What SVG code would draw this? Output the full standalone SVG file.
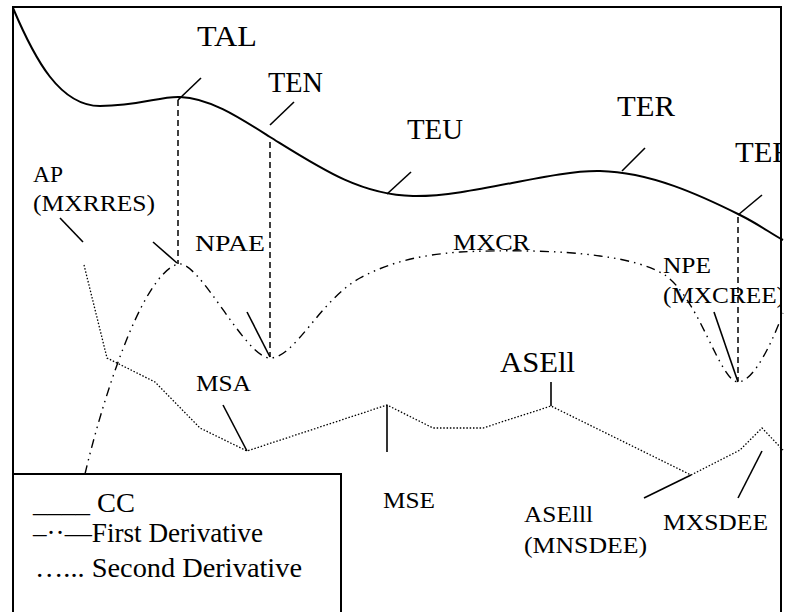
<svg xmlns="http://www.w3.org/2000/svg" width="786" height="612" viewBox="0 0 786 612">
<style>
text{font-family:"Liberation Serif","DejaVu Serif","Noto Serif",serif;fill:#000}
.big{font-size:29px}
.sm{font-size:24px}
.lg{font-size:27px}
.solid{fill:none;stroke:#000;stroke-width:2}
.tick{fill:none;stroke:#000;stroke-width:1.6}
.dash{fill:none;stroke:#000;stroke-width:1.5;stroke-dasharray:6 4}
.d1{fill:none;stroke:#000;stroke-width:1.4;stroke-dasharray:9 5 1.5 5 1.5 5}
.d2{fill:none;stroke:#000;stroke-width:1.3;stroke-dasharray:1.5 1.8}
</style>
<defs>
<clipPath id="frameClip"><rect x="0" y="0" width="781" height="612"/></clipPath>
</defs>
<rect width="786" height="612" fill="#fff"/>
<g id="curves">
<path id="cc" class="solid" d="M13,8 C35,60 60,106 100,106 C140,106 160,96 180,97 C210,98 240,118 270,137 C320,168 360,195 413,196 C470,197 550,170 600,171 C650,172 700,195 740,215 C760,225 770,233 783,240"/>
<path id="first" class="d1" d="M85,474 C100,410 140,275 178,264 C200,260 245,358 270,358 C295,358 320,300 360,278 C390,262 420,255 460,252 C500,250 560,250 600,256 C630,260 650,266 665,275 C700,300 720,382 738,382 C755,382 775,335 783,313"/>
<polyline id="second" class="d2" points="84,265 107,358 155,382 200,428 247,451 387,405 433,428 483,428 551,406 691,475 740,450 762,428 783,450"/>
</g>
<g id="connectors">
<line class="dash" x1="178" y1="100" x2="178" y2="264"/>
<line class="dash" x1="270" y1="142" x2="270" y2="357"/>
<line class="dash" x1="738" y1="217" x2="738" y2="381"/>
<line class="tick" x1="178" y1="100" x2="201" y2="78"/>
<line class="tick" x1="270" y1="125" x2="294" y2="102"/>
<line class="tick" x1="387" y1="194" x2="411" y2="172"/>
<line class="tick" x1="622" y1="171" x2="645" y2="148"/>
<line class="tick" x1="738" y1="215" x2="762" y2="195"/>
<line class="tick" x1="60" y1="218" x2="83" y2="242"/>
<line class="tick" x1="153" y1="242" x2="177" y2="263"/>
<line class="tick" x1="247" y1="312" x2="270" y2="357"/>
<line class="tick" x1="223" y1="405" x2="247" y2="451"/>
<line class="tick" x1="387" y1="405" x2="387" y2="452"/>
<line class="tick" x1="551" y1="382" x2="551" y2="406"/>
<line class="tick" x1="714" y1="312" x2="738" y2="382"/>
<line class="tick" x1="644" y1="498" x2="691" y2="475"/>
<line class="tick" x1="738" y1="498" x2="762" y2="451"/>
</g>
<g id="labels" clip-path="url(#frameClip)">
<g id="TAL"><text class="big" x="197" y="46" textLength="60" lengthAdjust="spacingAndGlyphs">TAL</text></g>
<g id="TEN"><text class="big" x="268" y="92" textLength="55" lengthAdjust="spacingAndGlyphs">TEN</text></g>
<g id="TEU"><text class="big" x="407" y="139" textLength="56" lengthAdjust="spacingAndGlyphs">TEU</text></g>
<g id="TER"><text class="big" x="617" y="116" textLength="58" lengthAdjust="spacingAndGlyphs">TER</text></g>
<g id="TEE"><text class="big" x="735" y="162" textLength="56" lengthAdjust="spacingAndGlyphs">TEE</text></g>
<g id="ASEll"><text class="big" x="500" y="372" textLength="75" lengthAdjust="spacingAndGlyphs">ASEll</text></g>
<g id="AP"><text class="sm" x="33" y="182" textLength="30" lengthAdjust="spacingAndGlyphs">AP</text><text class="sm" x="33" y="211" textLength="122" lengthAdjust="spacingAndGlyphs">(MXRRES)</text></g>
<g id="NPAE"><text class="sm" x="195" y="251" textLength="70" lengthAdjust="spacingAndGlyphs">NPAE</text></g>
<g id="MXCR"><text class="sm" x="453" y="250" textLength="77" lengthAdjust="spacingAndGlyphs">MXCR</text></g>
<g id="NPE"><text class="sm" x="663" y="273" textLength="48" lengthAdjust="spacingAndGlyphs">NPE</text><text class="sm" x="663" y="303" textLength="122" lengthAdjust="spacingAndGlyphs">(MXCREE)</text></g>
<g id="MSA"><text class="sm" x="196" y="391" textLength="55" lengthAdjust="spacingAndGlyphs">MSA</text></g>
<g id="MSE"><text class="sm" x="383" y="508" textLength="52" lengthAdjust="spacingAndGlyphs">MSE</text></g>
<g id="ASElll"><text class="sm" x="524" y="522" textLength="69" lengthAdjust="spacingAndGlyphs">ASElll</text><text class="sm" x="524" y="553" textLength="123" lengthAdjust="spacingAndGlyphs">(MNSDEE)</text></g>
<g id="MXSDEE"><text class="sm" x="663" y="530" textLength="105" lengthAdjust="spacingAndGlyphs">MXSDEE</text></g>
</g>
<g id="frame">
<rect x="13" y="7" width="768" height="620" fill="none" stroke="#000" stroke-width="2"/>
</g>
<g id="legend">
<rect x="13" y="474" width="328" height="150" fill="#fff" stroke="#000" stroke-width="2"/>
<text class="lg" x="33" y="512" textLength="102" lengthAdjust="spacingAndGlyphs">____ CC</text>
<text class="lg" x="33" y="542" textLength="230" lengthAdjust="spacingAndGlyphs">–··—First Derivative</text>
<text class="lg" x="35" y="577" textLength="267" lengthAdjust="spacingAndGlyphs">…... Second Derivative</text>
</g>
</svg>
